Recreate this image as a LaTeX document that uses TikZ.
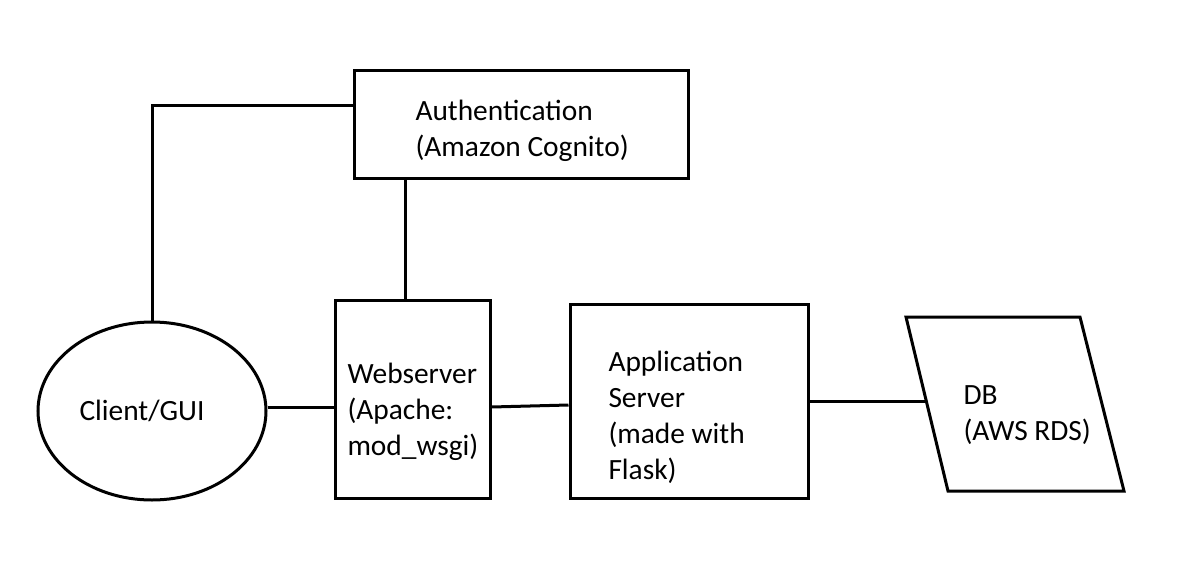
\documentclass[tikz,border=0pt]{standalone}
\usepackage{fontspec}
\setmainfont{Carlito}
\usepackage{tikz}
\usetikzlibrary{shapes.geometric}

\begin{document}
\begin{tikzpicture}[x=0.5pt, y=-0.5pt, line width=1.5pt,
    box/.style={draw, rectangle, inner sep=0pt},
    txt/.style={anchor=west, align=left, inner sep=0pt, font=\fontsize{14.7}{18}\selectfont}]
    \useasboundingbox (0,0) rectangle (1196,574);

    % Client
    \node[draw, ellipse, minimum width=114pt, minimum height=89pt, inner sep=0pt] (client) at (152,411) {};
    \node[txt, anchor=center] (clienttxt) at (142,411) {Client/GUI};

    % Authentication
    \node[box, minimum width=167pt, minimum height=54pt] (auth) at (521,124) {};
    \node[txt] (authtxt) at (414,131) {Authentication\\(Amazon Cognito)};

    % Webserver
    \node[box, minimum width=77.5pt, minimum height=99pt] (web) at (412.5,399) {};
    \node[txt] (webtxt) at (346,412) {Webserver\\(Apache:\\mod\_wsgi)};

    % Application server
    \node[box, minimum width=119pt, minimum height=97pt] (app) at (689,401) {};
    \node[txt] (apptxt) at (607,417) {Application\\Server\\(made with\\Flask)};

    % DB
    \draw (906,317) coordinate (dbtl) -- (1080,317) -- (1124,491) -- (948,491) coordinate (dbbl) -- cycle;
    \coordinate (dbin) at (926,401);
    \node[txt] (dbtxt) at (962,415) {DB\\(AWS RDS)};

    % Connections
    \draw (client.north) |- ([yshift=9.5pt]auth.west);
    \draw ([xshift=-3.5pt]web.north) -- ([xshift=-3.5pt]web.north |- auth.south);
    \draw (client.east |- 0,407) -- (web.west |- 0,407);
    \draw ([yshift=-4pt]web.east) -- ([yshift=-2pt]app.west);
    \draw (app.east) -- (dbin);
\end{tikzpicture}
\end{document}
